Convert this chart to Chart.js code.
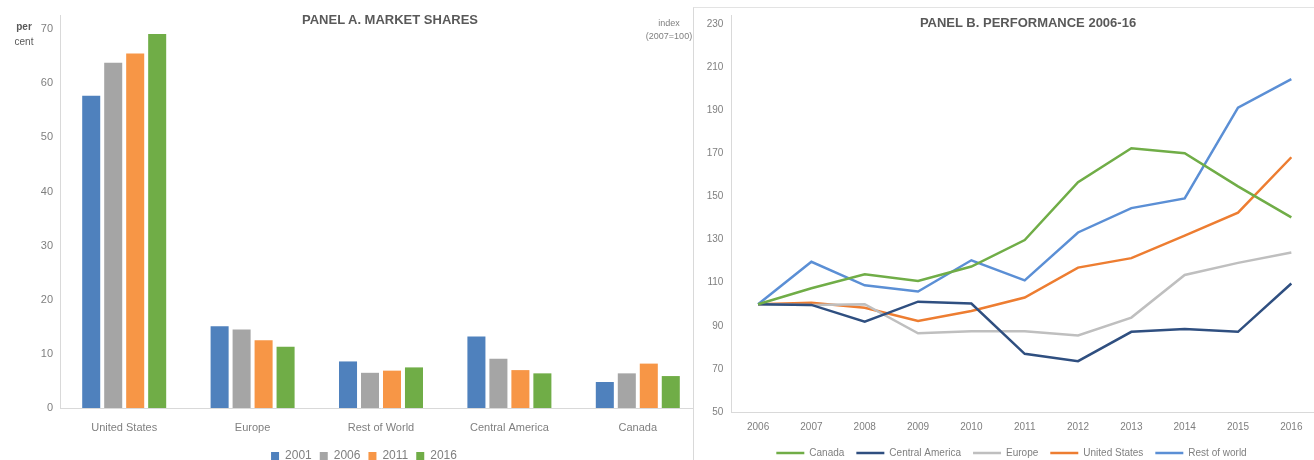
<!DOCTYPE html>
<html>
<head>
<meta charset="utf-8">
<script src="https://cdn.jsdelivr.net/npm/chart.js@4"></script>
<style>
  html, body { margin: 0; padding: 0; background: #fff; overflow: hidden; }
  body { width: 1314px; height: 460px; position: relative; font-family: "Liberation Sans", Arial, sans-serif; }
  .box { position: absolute; top: 0; }
  .txt { position: absolute; color: #595959; white-space: nowrap; }
</style>
</head>
<body>
<div class="box" style="left:0;width:703px;height:472px"><canvas id="shares"></canvas></div>
<div class="txt" style="left:0;width:48px;top:19px;font-size:10px;line-height:15px;text-align:center;"><b>per</b><br>cent</div>
<div class="txt" style="left:0;width:320px;margin-left:230px;top:12px;font-size:13px;font-weight:bold;text-align:center;">PANEL A. MARKET SHARES</div>
<div class="txt" style="left:640px;width:58px;top:17px;font-size:9px;line-height:13px;text-align:center;color:#7f7f7f">index<br>(2007=100)</div>

<div class="box" style="left:693px;width:626px;height:468px;background:#fff"><canvas id="perf"></canvas></div>
<div style="position:absolute;left:693px;top:7px;width:621px;height:453px;border-top:1px solid #e3e3e3;border-left:1px solid #d9d9d9;box-sizing:border-box"></div>
<div class="txt" style="left:868px;width:320px;top:15px;font-size:13px;font-weight:bold;text-align:center;">PANEL B. PERFORMANCE 2006-16</div>

<script>
// panel A: market shares, per cent
const regions = ['United States', 'Europe', 'Rest of World', 'Central America', 'Canada'];
const share2001 = [57.7, 15.1, 8.6, 13.2, 4.8];
const share2006 = [63.8, 14.5, 6.5, 9.1, 6.4];
const share2011 = [65.5, 12.5, 6.9, 7.0, 8.2];
const share2016 = [69.1, 11.3, 7.5, 6.4, 5.9];
const percentTicks = [0, 10, 20, 30, 40, 50, 60, 70];

// panel B: performance index (2007=100)
const years = ['2006', '2007', '2008', '2009', '2010', '2011', '2012', '2013', '2014', '2015', '2016'];
const canada = [100, 107.4, 113.9, 110.8, 117.5, 129.8, 156.6, 172.4, 170.1, 154.7, 140.3];
const centralAmerica = [100, 99.7, 91.9, 101.2, 100.3, 77.0, 73.6, 87.2, 88.5, 87.2, 109.6];
const europe = [100, 99.7, 100, 86.5, 87.5, 87.5, 85.5, 93.8, 113.6, 119.2, 124.0];
const unitedStates = [100, 100.7, 98.4, 92.2, 96.9, 103.1, 117.0, 121.4, 131.8, 142.5, 168.2];
const restOfWorld = [100, 119.7, 108.8, 105.9, 120.4, 111.1, 133.3, 144.6, 149.1, 191.2, 204.4];
const indexTicks = [50, 70, 90, 110, 130, 150, 170, 190, 210, 230];

Chart.defaults.font.family = '"Liberation Sans", Arial, sans-serif';
Chart.defaults.color = '#7f7f7f';
Chart.defaults.animation = false;

const axisLine = '#d9d9d9';

new Chart(document.getElementById('shares'), {
  type: 'bar',
  data: {
    labels: regions,
    datasets: [
      { label: '2001', data: share2001, backgroundColor: '#4f81bd' },
      { label: '2006', data: share2006, backgroundColor: '#a5a5a5' },
      { label: '2011', data: share2011, backgroundColor: '#f79646' },
      { label: '2016', data: share2016, backgroundColor: '#70ad47' }
    ]
  },
  options: {
    responsive: true,
    maintainAspectRatio: false,
    layout: { padding: { left: 26, right: 1, top: 15, bottom: 0 } },
    datasets: { bar: { barPercentage: 0.82, categoryPercentage: 0.685 } },
    plugins: {
      tooltip: { enabled: false },
      legend: {
        position: 'bottom',
        labels: { boxWidth: 8, boxHeight: 8, padding: 8, font: { size: 12 }, color: '#7f7f7f' }
      }
    },
    scales: {
      x: {
        grid: { display: false, drawTicks: false },
        border: { color: axisLine },
        ticks: { padding: 13, font: { size: 11 }, color: '#7f7f7f', maxRotation: 0 },
        afterFit: s => { s.height = 34; }
      },
      y: {
        min: 0,
        max: 72.6,
        grid: { display: false, drawTicks: false },
        border: { color: axisLine },
        ticks: { padding: 7, font: { size: 11 }, color: '#7f7f7f' },
        afterBuildTicks: s => { s.ticks = percentTicks.map(v => ({ value: v })); },
        afterFit: s => { s.width = 34; }
      }
    }
  }
});

function lineSet(label, data, color) {
  return { label, data, borderColor: color, backgroundColor: color, borderWidth: 2.5,
           pointRadius: 0, tension: 0, fill: false };
}

new Chart(document.getElementById('perf'), {
  type: 'line',
  data: {
    labels: years,
    datasets: [
      lineSet('Canada', canada, '#70ad47'),
      lineSet('Central America', centralAmerica, '#2f4f80'),
      lineSet('Europe', europe, '#bfbfbf'),
      lineSet('United States', unitedStates, '#ed7d31'),
      lineSet('Rest of world', restOfWorld, '#5b8fd5')
    ]
  },
  options: {
    responsive: true,
    maintainAspectRatio: false,
    layout: { padding: { left: 12, right: 1, top: 15, bottom: 0 } },
    plugins: {
      tooltip: { enabled: false },
      legend: {
        position: 'bottom',
        labels: { usePointStyle: true, pointStyle: 'line', pointStyleWidth: 28, boxHeight: 10,
                  padding: 12, font: { size: 10 }, color: '#7f7f7f' }
      }
    },
    scales: {
      x: {
        offset: true,
        grid: { display: false, drawTicks: false },
        border: { color: axisLine },
        ticks: { padding: 9, font: { size: 10 }, color: '#7f7f7f', maxRotation: 0 },
        afterFit: s => { s.height = 24; }
      },
      y: {
        min: 50,
        max: 234.2,
        grid: { display: false, drawTicks: false },
        border: { color: axisLine },
        ticks: { padding: 8, font: { size: 10 }, color: '#7f7f7f' },
        afterBuildTicks: s => { s.ticks = indexTicks.map(v => ({ value: v })); },
        afterFit: s => { s.width = 26.4; }
      }
    }
  }
});
</script>
</body>
</html>
